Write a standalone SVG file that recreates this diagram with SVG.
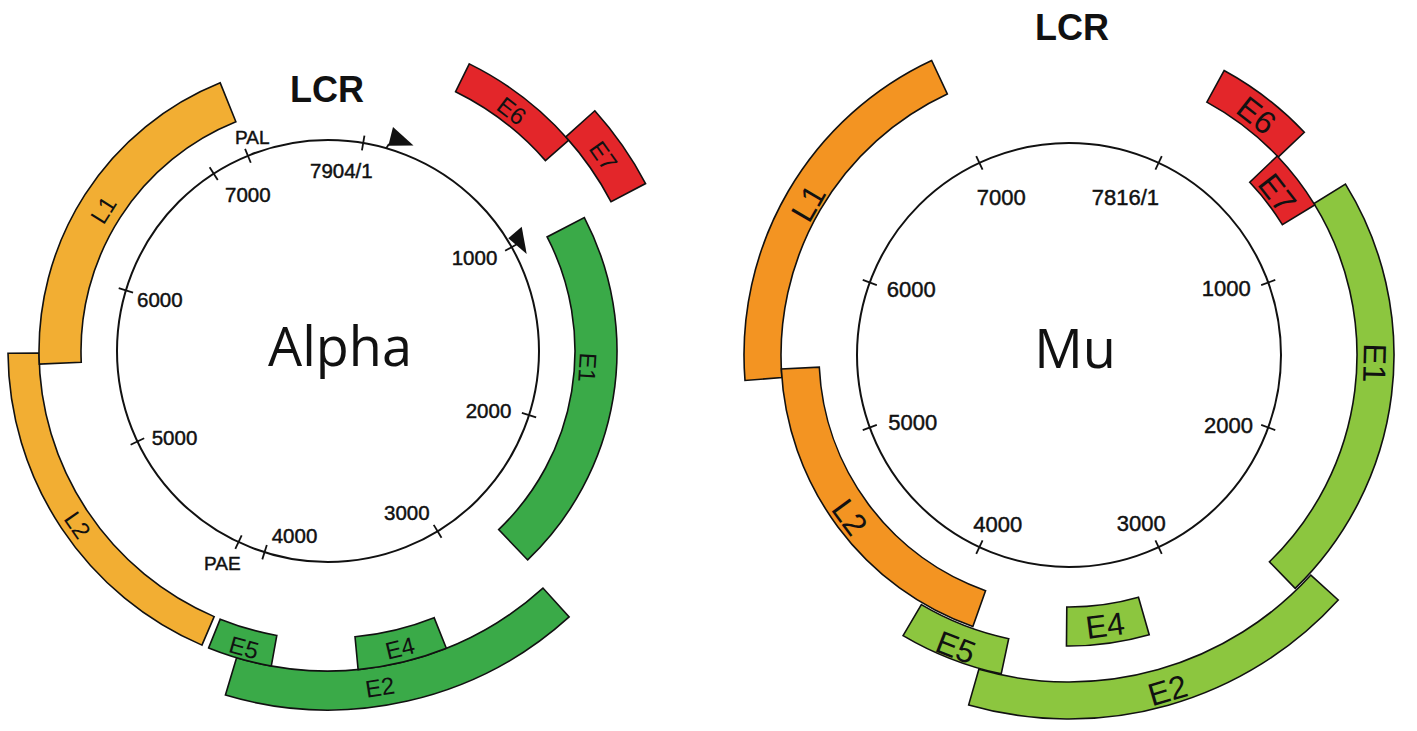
<svg xmlns="http://www.w3.org/2000/svg" width="1417" height="731" viewBox="0 0 1417 731">
<style>
.seg{stroke:#111;stroke-width:1.6;stroke-linejoin:miter}
.ya{fill:#F2AE33}.ga{fill:#3AAA48}.rd{fill:#E3262A}.om{fill:#F39422}.gm{fill:#8CC63F}
.ring{fill:none;stroke:#111;stroke-width:2}
.tick{stroke:#111;stroke-width:1.8}
.num{font-family:"Liberation Sans",Arial,sans-serif;fill:#111;stroke:#111;stroke-width:0.45}
.na{font-size:20.5px}.nm{font-size:22px}.pa{font-size:19px}
.gl{font-family:"Liberation Sans",Arial,sans-serif;fill:#111;text-anchor:middle}
.gla{font-size:24px}.glm{font-size:32px}
.lcr{font-family:"Liberation Sans",Arial,sans-serif;font-weight:bold;font-size:36px;text-anchor:middle;fill:#111}
.big{font-family:"Open Sans","Liberation Sans",sans-serif;font-size:54px;text-anchor:middle;fill:#111}
</style>
<rect width="1417" height="731" fill="#fff"/>

<!-- ALPHA -->
<g id="alpha">
  <g id="alpha-map">
    <circle class="ring" cx="328" cy="351" r="211"/>
    <g id="alpha-ticks">
      <line class="tick" x1="361.94" y1="150.35" x2="364.44" y2="135.56"/>
      <line class="tick" x1="250.78" y1="162.72" x2="245.09" y2="148.84"/>
      <line class="tick" x1="217.76" y1="179.94" x2="209.64" y2="167.34"/>
      <line class="tick" x1="133.08" y1="292.52" x2="118.72" y2="288.21"/>
      <line class="tick" x1="144.17" y1="438.29" x2="130.62" y2="444.72"/>
      <line class="tick" x1="241.68" y1="535.28" x2="235.31" y2="548.87"/>
      <line class="tick" x1="266.81" y1="545.08" x2="262.29" y2="559.39"/>
      <line class="tick" x1="433.72" y1="524.88" x2="441.52" y2="537.70"/>
      <line class="tick" x1="521.87" y1="412.87" x2="536.16" y2="417.43"/>
      <line class="tick" x1="505.12" y1="250.79" x2="518.17" y2="243.41"/>
    </g>
    <g id="alpha-promoters">
      <line class="tick" x1="386.2" y1="148.2" x2="389" y2="144"/>
      <polygon points="393,127 413.5,145.5 388.3,145.8" fill="#111"/>
      <polygon points="508.3,238.3 521.7,226.7 526.7,254" fill="#111"/>
    </g>
    <g id="alpha-tick-labels">
      <text class="num pa" x="235" y="143.5">PAL</text>
      <text class="num na" x="225" y="202">7000</text>
      <text class="num na" x="310" y="178">7904/1</text>
      <text class="num na" x="137" y="307">6000</text>
      <text class="num na" x="151.7" y="445">5000</text>
      <text class="num na" x="271.7" y="543">4000</text>
      <text class="num pa" x="204" y="570">PAE</text>
      <text class="num na" x="384" y="520">3000</text>
      <text class="num na" x="465.7" y="418">2000</text>
      <text class="num na" x="451.7" y="265">1000</text>
    </g>
    <text class="lcr" x="327" y="101.5">LCR</text>
    <text class="big" x="340" y="366">Alpha</text>
  </g>
  <g id="alpha-E2"><path class="seg ga" d="M 569.15 616.95 A 359 359 0 0 1 225.44 695.04 L 236.58 657.66 A 320 320 0 0 0 542.95 588.06 Z"/><text class="gl gla" transform="translate(380 687) rotate(-8.8)" y="8.5">E2</text></g>
  <g id="alpha-E4"><path class="seg ga" d="M 446.32 648.32 A 320 320 0 0 1 358.12 669.58 L 355.01 636.73 A 287 287 0 0 0 434.12 617.66 Z"/><text class="gl gla" transform="translate(400 648) rotate(-13.6)" y="8.5">E4</text></g>
  <g id="alpha-E5"><path class="seg ga" d="M 271.33 665.94 A 320 320 0 0 1 208.64 647.91 L 220.21 619.15 A 289 289 0 0 0 276.82 635.43 Z"/><text class="gl gla" transform="translate(244 647.5) rotate(15.8)" y="8.5">E5</text></g>
  <g id="alpha-L2"><path class="seg ya" d="M 201.94 645.12 A 320 320 0 0 1 8.01 353.23 L 39.01 353.02 A 289 289 0 0 0 214.15 616.63 Z"/><text class="gl gla" transform="translate(77.5 525) rotate(55.2)" y="8.5">L2</text></g>
  <g id="alpha-L1"><path class="seg ya" d="M 39.30 364.11 A 289 289 0 0 1 220.21 82.85 L 235.87 121.82 A 247 247 0 0 0 81.25 362.20 Z"/><text class="gl gla" transform="translate(103.3 210) rotate(-57.9)" y="8.5">L1</text></g>
  <g id="alpha-E1"><path class="seg ga" d="M 584.35 217.55 A 289 289 0 0 1 527.66 559.94 L 498.65 529.57 A 247 247 0 0 0 547.09 236.95 Z"/><text class="gl gla" transform="translate(587.5 367.5) rotate(93.6)" y="8.5">E1</text></g>
  <g id="alpha-E6"><path class="seg rd" d="M 469.28 63.88 A 320 320 0 0 1 568.77 140.22 L 545.45 160.64 A 289 289 0 0 0 455.60 91.69 Z"/><text class="gl gla" transform="translate(511.7 110.8) rotate(37.4)" y="8.5">E6</text></g>
  <g id="alpha-E7"><path class="seg rd" d="M 594.79 110.78 A 359 359 0 0 1 645.56 183.57 L 611.07 201.76 A 320 320 0 0 0 565.80 136.88 Z"/><text class="gl gla" transform="translate(603.3 155.8) rotate(54.7)" y="8.5">E7</text></g>
</g>

<!-- MU -->
<g id="mu">
  <g id="mu-map">
    <circle class="ring" cx="1069" cy="355" r="212"/>
    <g id="mu-ticks">
      <line class="tick" x1="1155.43" y1="169.66" x2="1161.77" y2="156.07"/>
      <line class="tick" x1="982.57" y1="169.66" x2="976.23" y2="156.07"/>
      <line class="tick" x1="1261.17" y1="285.06" x2="1275.26" y2="279.93"/>
      <line class="tick" x1="876.83" y1="285.06" x2="862.74" y2="279.93"/>
      <line class="tick" x1="1261.17" y1="424.94" x2="1275.26" y2="430.07"/>
      <line class="tick" x1="876.83" y1="424.94" x2="862.74" y2="430.07"/>
      <line class="tick" x1="1155.43" y1="540.34" x2="1161.77" y2="553.93"/>
      <line class="tick" x1="982.57" y1="540.34" x2="976.23" y2="553.93"/>
    </g>
    <g id="mu-tick-labels">
      <text class="num nm" x="976.7" y="205">7000</text>
      <text class="num nm" x="1091.7" y="205">7816/1</text>
      <text class="num nm" x="886.7" y="296.7">6000</text>
      <text class="num nm" x="1201.7" y="296">1000</text>
      <text class="num nm" x="888.3" y="430">5000</text>
      <text class="num nm" x="1204" y="432.7">2000</text>
      <text class="num nm" x="973.3" y="531.7">4000</text>
      <text class="num nm" x="1116.7" y="530.7">3000</text>
    </g>
    <text class="lcr" x="1072" y="40">LCR</text>
    <text class="big" x="1075" y="368">Mu</text>
  </g>
  <g id="mu-E2"><path class="seg gm" d="M 1338.23 599.98 A 364 364 0 0 1 968.67 704.90 L 978.87 669.33 A 327 327 0 0 0 1310.86 575.07 Z"/><text class="gl glm" transform="translate(1167.5 690) rotate(-16.4)" y="11.5">E2</text></g>
  <g id="mu-E5"><path class="seg gm" d="M 1001.22 673.88 A 326 326 0 0 1 903.05 635.60 L 921.38 604.61 A 290 290 0 0 0 1008.71 638.66 Z"/><text class="gl glm" transform="translate(956 647) rotate(21.2)" y="11.5">E5</text></g>
  <g id="mu-E4"><path class="seg gm" d="M 1149.21 634.73 A 291 291 0 0 1 1066.46 645.99 L 1066.80 606.99 A 252 252 0 0 0 1138.46 597.24 Z"/><text class="gl glm" transform="translate(1105 625) rotate(-7.6)" y="11.5">E4</text></g>
  <g id="mu-L1"><path class="seg om" d="M 745.00 380.50 A 325 325 0 0 1 931.65 60.45 L 947.29 93.98 A 288 288 0 0 0 781.89 377.60 Z"/><text class="gl glm" transform="translate(808 203) rotate(-59.8)" y="11.5">L1</text></g>
  <g id="mu-L2"><path class="seg om" d="M 972.86 626.48 A 288 288 0 0 1 781.34 369.07 L 819.30 367.21 A 250 250 0 0 0 985.55 590.66 Z"/><text class="gl glm" transform="translate(850 517) rotate(53.5)" y="11.5">L2</text></g>
  <g id="mu-E1"><path class="seg gm" d="M 1345.47 184.14 A 325 325 0 0 1 1295.17 588.39 L 1269.42 561.82 A 288 288 0 0 0 1314.00 203.60 Z"/><text class="gl glm" transform="translate(1375 363) rotate(91.5)" y="11.5">E1</text></g>
  <g id="mu-E6"><path class="seg rd" d="M 1224.10 70.53 A 324 324 0 0 1 1304.34 132.31 L 1278.19 157.06 A 288 288 0 0 0 1206.86 102.14 Z"/><text class="gl glm" transform="translate(1256.7 115) rotate(38)" y="11.5">E6</text></g>
  <g id="mu-E7"><path class="seg rd" d="M 1277.22 156.03 A 288 288 0 0 1 1314.78 204.89 L 1282.35 224.69 A 250 250 0 0 0 1249.74 182.28 Z"/><text class="gl glm" transform="translate(1277.5 193) rotate(52.2)" y="11.5">E7</text></g>
</g>
</svg>
